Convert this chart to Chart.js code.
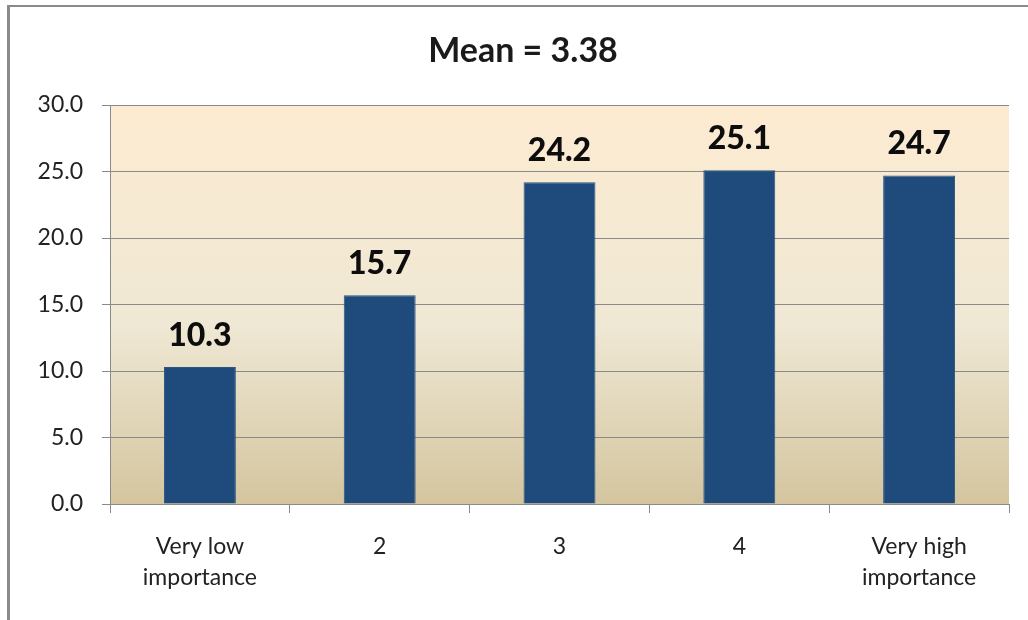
<!DOCTYPE html>
<html>
<head>
<meta charset="utf-8">
<script src="https://cdn.jsdelivr.net/npm/chart.js@4"></script>
<style>
  html, body { margin: 0; padding: 0; background: #fff; }
  #wrap { width: 1028px; height: 620px; }
</style>
</head>
<body>
<div id="wrap"><canvas id="myChart" width="1028" height="620"></canvas></div>
<script>
// Données du graphique
const categories = [['Very low', 'importance'], '2', '3', '4', ['Very high', 'importance']];
const percentages = [10.3, 15.7, 24.2, 25.1, 24.7];
const yTicks = [0, 5, 10, 15, 20, 25, 30];
const chartTitle = 'Mean = 3.38';

const FONT = 'Lato, "Open Sans", sans-serif';

// Fond blanc, cadre gris et dégradé de la zone de tracé
const backgroundPlugin = {
    id: 'background',
    beforeDraw(chart) {
        const { ctx, chartArea } = chart;
        ctx.save();
        ctx.fillStyle = '#ffffff';
        ctx.fillRect(0, 0, chart.width, chart.height);
        ctx.fillStyle = '#8a8a8a';
        ctx.fillRect(7, 5, 3, chart.height - 5);
        ctx.fillRect(7, 5, chart.width - 7, 2);
        const grad = ctx.createLinearGradient(0, chartArea.top, 0, chartArea.bottom);
        grad.addColorStop(0, '#fdebd1');
        grad.addColorStop(0.55, '#efe8d4');
        grad.addColorStop(1, '#d4c59f');
        ctx.fillStyle = grad;
        ctx.fillRect(chartArea.left, chartArea.top, chartArea.right - chartArea.left, chartArea.bottom - chartArea.top);
        ctx.restore();
    }
};

// Valeurs au-dessus des barres + titre
const labelsPlugin = {
    id: 'valueLabels',
    afterDatasetsDraw(chart) {
        const { ctx } = chart;
        const meta = chart.getDatasetMeta(0);
        ctx.save();
        ctx.font = '900 32px ' + FONT;
        ctx.fillStyle = '#0d0d0d';
        ctx.textAlign = 'center';
        ctx.textBaseline = 'alphabetic';
        meta.data.forEach(function (bar, i) {
            ctx.fillText(percentages[i].toFixed(1), bar.x, bar.y - 21);
        });
        ctx.restore();
    },
    afterDraw(chart) {
        const { ctx } = chart;
        ctx.save();
        ctx.font = 'bold 34px ' + FONT;
        ctx.fillStyle = '#1a1a1a';
        ctx.textAlign = 'center';
        ctx.textBaseline = 'alphabetic';
        ctx.fillText(chartTitle, 523, 62);
        ctx.restore();
    }
};

const ctx = document.getElementById('myChart').getContext('2d');
const myChart = new Chart(ctx, {
    type: 'bar',
    data: {
        labels: categories,
        datasets: [{
            data: percentages,
            backgroundColor: '#1f4a7c',
            borderColor: '#2a5584',
            borderWidth: 1,
            categoryPercentage: 1,
            barPercentage: 0.4
        }]
    },
    options: {
        responsive: false,
        animation: false,
        layout: {
            padding: { left: 0, right: 19, top: 105, bottom: 0 }
        },
        plugins: {
            legend: { display: false },
            title: { display: false },
            tooltip: { enabled: false }
        },
        scales: {
            x: {
                afterFit: function (scale) { scale.height = 116; },
                grid: {
                    offset: true,
                    drawOnChartArea: false,
                    color: '#8a8a8a',
                    tickLength: 9
                },
                border: { color: '#8a8a8a' },
                ticks: {
                    color: '#222222',
                    padding: 18,
                    maxRotation: 0,
                    font: { family: FONT, size: 23, lineHeight: 1.35 }
                }
            },
            y: {
                min: 0,
                max: 30,
                afterFit: function (scale) { scale.width = 110; },
                afterBuildTicks: function (scale) {
                    scale.ticks = yTicks.map(function (v) { return { value: v }; });
                },
                grid: {
                    color: '#8a8a8a',
                    tickLength: 8
                },
                border: { color: '#8a8a8a' },
                ticks: {
                    color: '#222222',
                    padding: 19,
                    font: { family: FONT, size: 23 },
                    callback: function (value) { return Number(value).toFixed(1); }
                }
            }
        }
    },
    plugins: [backgroundPlugin, labelsPlugin]
});
</script>
</body>
</html>
